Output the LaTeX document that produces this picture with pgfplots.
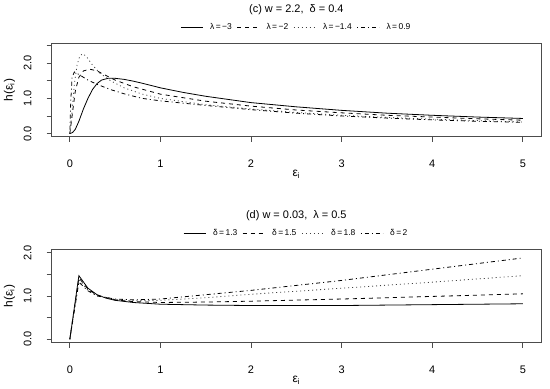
\documentclass[border=0pt]{standalone}
\usepackage{pgfplots}
\pgfplotsset{compat=1.18}
\usepackage{fontspec}
\setmainfont{Liberation Sans}
\definecolor{boxc}{gray}{0.3}
\begin{document}
\begin{tikzpicture}
\path[use as bounding box] (0bp,0bp) rectangle (550bp,389bp);
\pgfplotsset{
 rstyle/.style={
  scale only axis, width=489.3bp, height=93.4bp,
  xmin=-0.2, xmax=5.2,
  axis line style={draw=boxc, line width=0.8bp},
  every tick/.style={draw=boxc, line width=0.8bp},
  tick align=outside, major tick length=5bp,
  xtick pos=left, ytick pos=left,
  xtick={0,1,2,3,4,5}, xticklabels={0,1,2,3,4,5},
  ticklabel style={font=\fontsize{11}{13}\selectfont},
  xticklabel style={anchor=base, inner sep=0pt, yshift=-25.4bp},
  yticklabel style={rotate=90, anchor=base, inner sep=0pt, yshift=15.3bp},
  xlabel={ε\textsubscript{i}}, ylabel={h(ε\textsubscript{i})},
  label style={font=\fontsize{12}{14}\selectfont},
  xlabel style={at={(axis description cs:0.5,0)}, anchor=center, yshift=-37.5bp},
  ylabel style={at={(axis description cs:-0.0862,0.5)}, anchor=center},
  title style={at={(axis description cs:0.5,1)}, anchor=center, yshift=28bp, font=\fontsize{11}{13}\selectfont},
  legend style={at={(0.5,1)}, anchor=center, yshift=16.3bp, draw=none, fill=none,
    font=\fontsize{8.5}{10}\selectfont, inner sep=0pt,
    /tikz/every odd column/.append style={column sep=5bp},
    /tikz/every even column/.append style={column sep=3bp}},
  legend columns=4,
  legend image code/.code={\draw[#1] (0bp,0bp) -- (22bp,0bp);},
  every axis plot/.append style={line width=0.8bp, black, no marks},
 },
 rsolid/.style={solid},
 rdash/.style={dash pattern=on 4bp off 4bp},
 rdot/.style={dash pattern=on 1bp off 3bp, black!75},
 rdotdash/.style={dash pattern=on 1bp off 3bp on 4bp off 3bp},
}
% ---------- top panel (c)
\begin{axis}[rstyle, at={(51.7bp,252.3bp)}, anchor=south west,
  ymin=-0.088, ymax=2.565,
  ytick={0,0.5,1,1.5,2,2.5}, yticklabels={0.0,,1.0,,2.0,},
  title={(c) w = 2.2,\ \ δ = 0.4}]
\addplot[rsolid] coordinates {(0,0) (0.03,0.03) (0.06,0.12) (0.1,0.35) (0.15,0.7) (0.2,1.0) (0.25,1.25) (0.3,1.42) (0.35,1.52) (0.42,1.57) (0.5,1.57) (0.6,1.54) (0.7,1.49) (0.8,1.43) (1.0,1.3) (1.25,1.17) (1.5,1.06) (2,0.88) (2.5,0.76) (3,0.66) (3.5,0.58) (4,0.52) (4.5,0.47) (5,0.43)};
\addlegendentry{λ\,=\,−3}
\addplot[rdash] coordinates {(0,0) (0.03,0.6) (0.06,1.2) (0.1,1.6) (0.15,1.78) (0.22,1.83) (0.3,1.78) (0.4,1.65) (0.5,1.52) (0.7,1.33) (1,1.12) (1.5,0.92) (2,0.78) (2.5,0.67) (3,0.59) (3.5,0.52) (4,0.47) (4.5,0.42) (5,0.38)};
\addlegendentry{λ\,=\,−2}
\addplot[rdot] coordinates {(0,0) (0.02,0.5) (0.05,1.4) (0.08,1.95) (0.11,2.2) (0.14,2.27) (0.18,2.2) (0.25,1.95) (0.33,1.72) (0.45,1.5) (0.6,1.3) (0.8,1.12) (1,1.0) (1.5,0.82) (2,0.7) (2.5,0.6) (3,0.52) (3.5,0.46) (4,0.41) (4.5,0.37) (5,0.33)};
\addlegendentry{λ\,=\,−1.4}
\addplot[rdotdash] coordinates {(0,0) (0.01,0.9) (0.025,1.6) (0.05,1.75) (0.1,1.68) (0.2,1.52) (0.3,1.4) (0.45,1.25) (0.6,1.13) (0.8,1.0) (1,0.93) (1.5,0.8) (2,0.68) (2.5,0.58) (3,0.5) (3.5,0.44) (4,0.39) (4.5,0.35) (5,0.32)};
\addlegendentry{λ\,=\,0.9}
\end{axis}
% ---------- bottom panel (d)
\begin{axis}[rstyle, at={(51.7bp,46.3bp)}, anchor=south west,
  ymin=-0.08, ymax=2.08,
  ytick={0,0.5,1,1.5,2}, yticklabels={0.0,,1.0,,2.0},
  title={(d) w = 0.03,\ \ λ = 0.5}]
\addplot[rsolid] coordinates {(0,0) (0.1,1.47) (0.2,1.18) (0.3,1.03) (0.4,0.95) (0.5,0.9) (0.7,0.85) (1,0.81) (1.5,0.79) (2,0.78) (3,0.78) (4,0.8) (5,0.82)};
\addlegendentry{δ\,=\,1.3}
\addplot[rdash] coordinates {(0,0) (0.1,1.42) (0.2,1.16) (0.3,1.02) (0.5,0.91) (0.7,0.87) (1,0.85) (1.5,0.86) (2,0.88) (3,0.93) (4,0.99) (5,1.05)};
\addlegendentry{δ\,=\,1.5}
\addplot[rdot] coordinates {(0,0) (0.1,1.37) (0.2,1.14) (0.3,1.01) (0.5,0.92) (0.7,0.89) (1,0.9) (1.5,0.96) (2,1.04) (3,1.18) (4,1.32) (5,1.47)};
\addlegendentry{δ\,=\,1.8}
\addplot[rdotdash] coordinates {(0,0) (0.1,1.32) (0.2,1.12) (0.3,1.0) (0.5,0.93) (0.7,0.91) (1,0.93) (1.5,1.03) (2,1.13) (3,1.36) (4,1.62) (5,1.88)};
\addlegendentry{δ\,=\,2}
\end{axis}
\end{tikzpicture}
\end{document}
